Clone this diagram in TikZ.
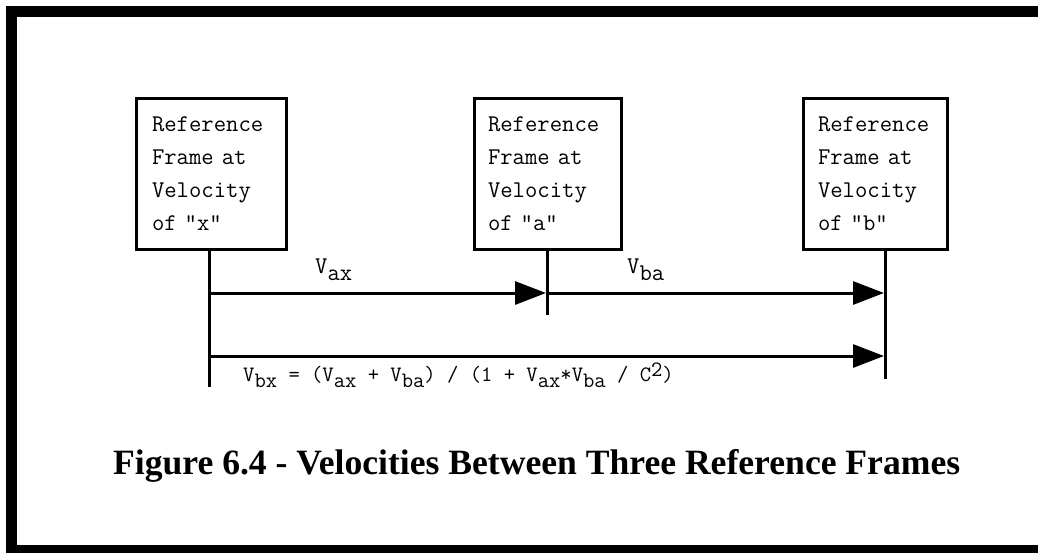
\documentclass[tikz,border=0pt]{standalone}
\usepackage{fontspec}
\usetikzlibrary{arrows.meta}
\newfontfamily\capfont{Liberation Serif}
\begin{document}
\begin{tikzpicture}[x=1pt,y=-1pt,
  framebox/.style={draw, line width=3pt, minimum height=151pt, inner ysep=0pt,
    align=left, font=\ttfamily\fontsize{24}{33}\selectfont},
  link/.style={line width=3pt},
  arr/.style={line width=3pt, -{Triangle[length=31pt,width=23pt]}},
  lbl/.style={inner sep=0pt, anchor=base west, font=\ttfamily\fontsize{24}{28}\selectfont},
  formula/.style={inner sep=0pt, anchor=base west, font=\ttfamily\fontsize{22}{24}\selectfont},
  caption/.style={inner sep=0pt, anchor=base west, font=\capfont\bfseries\fontsize{35.6}{40}\selectfont}]
\useasboundingbox (0,0) rectangle (1038,552);
% outer frame (left, top, bottom)
\draw[line width=11pt] (1045,11.5) -- (11.5,11.5) -- (11.5,550.5) -- (1045,550.5);
% boxes
\node[framebox, minimum width=150pt, inner xsep=15.5pt, text width=119pt] (bx) at (211.5,174)
  {Reference\\Frame at\\Velocity\\of "x"};
\node[framebox, minimum width=147pt, inner xsep=13.5pt, text width=120pt] (ba) at (548,174)
  {Reference\\Frame at\\Velocity\\of "a"};
\node[framebox, minimum width=144pt, inner xsep=14.5pt, text width=115pt] (bb) at (875.5,174)
  {Reference\\Frame at\\Velocity\\of "b"};
% line ends and rows
\coordinate (ex) at (209,387);
\coordinate (ea) at (547.5,315);
\coordinate (eb) at (885.5,379);
\coordinate (r1) at (0,293);
\coordinate (r3) at (0,356);
\draw[link] (ex |- bx.south) -- (ex);
\draw[link] (ea |- ba.south) -- (ea);
\draw[link] (eb |- bb.south) -- (eb);
% arrows
\draw[arr] (ex |- r1) -- ([xshift=-1.5pt]ea |- r1);
\draw[arr] (ea |- r1) -- ([xshift=-1.5pt]eb |- r1);
\draw[arr] (ex |- r3) -- ([xshift=-1.5pt]eb |- r3);
% labels
\node[lbl] (vax) at (315,273) {V\raisebox{-7pt}{ax}};
\node[lbl] (vba) at (627,273) {V\raisebox{-7pt}{ba}};
\node[formula] (vbx) at (243,381)
  {V\raisebox{-6pt}{bx} = (V\raisebox{-6pt}{ax} + V\raisebox{-6pt}{ba}) / (1 + V\raisebox{-6pt}{ax}*V\raisebox{-6pt}{ba} / C\raisebox{5pt}{2})};
\node[caption] (cap) at (113,474) {Figure 6.4 - Velocities Between Three Reference Frames};
\end{tikzpicture}
\end{document}
